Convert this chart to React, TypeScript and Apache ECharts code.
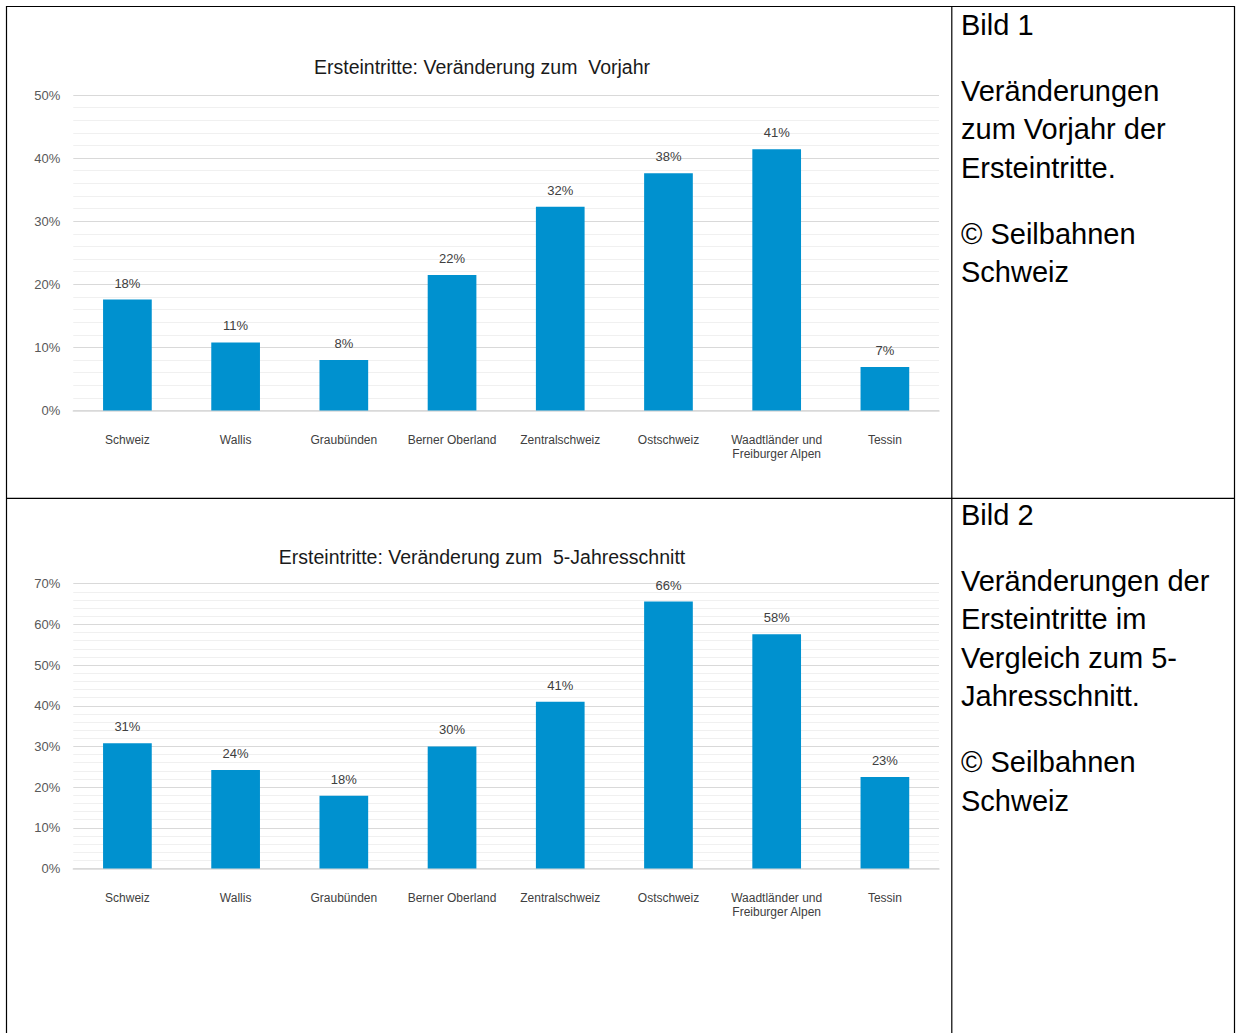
import React, { useEffect, useRef } from "react";
import * as echarts from "echarts";

const categories = [
  "Schweiz",
  "Wallis",
  "Graubünden",
  "Berner Oberland",
  "Zentralschweiz",
  "Ostschweiz",
  "Waadtländer und\nFreiburger Alpen",
  "Tessin",
];
const vorjahrValues = [17.6, 10.8, 8.0, 21.5, 32.3, 37.6, 41.4, 6.9];
const fuenfJahreValues = [30.8, 24.2, 17.9, 30.0, 41.0, 65.6, 57.6, 22.5];
const title1 = "Ersteintritte: Veränderung zum  Vorjahr";
const title2 = "Ersteintritte: Veränderung zum  5-Jahresschnitt";
const side1 = ["Bild 1", "Veränderungen", "zum Vorjahr der", "Ersteintritte.", "© Seilbahnen", "Schweiz"];
const side2 = ["Bild 2", "Veränderungen der", "Ersteintritte im", "Vergleich zum 5-", "Jahresschnitt.", "© Seilbahnen", "Schweiz"];

const FONT = "'Liberation Sans', Arial, sans-serif";
const BAR = "#0091CF";

export default function App() {
  const ref = useRef<HTMLDivElement>(null);
  useEffect(() => {
    if (!ref.current) return;
    const chart = echarts.init(ref.current, undefined, { renderer: "svg" });

    const yAxisCommon = (max: number) => ({
      type: "value",
      min: 0,
      max,
      interval: 10,
      axisLine: { show: false },
      axisTick: { show: false },
      axisLabel: {
        formatter: "{value}%",
        fontSize: 13,
        fontFamily: FONT,
        color: "#595959",
        margin: 13,
      },
      splitLine: { show: true, lineStyle: { color: "#d9d9d9", width: 1 } },
      minorTick: { show: false, splitNumber: 5 },
      minorSplitLine: { show: true, lineStyle: { color: "#f0f0f0", width: 1 } },
    });

    const xAxisCommon = (gridIndex: number) => ({
      type: "category",
      gridIndex,
      data: categories,
      axisLine: { show: true, lineStyle: { color: "#d9d9d9", width: 1.5 } },
      axisTick: { show: false },
      axisLabel: {
        interval: 0,
        fontSize: 12,
        lineHeight: 14,
        fontFamily: FONT,
        color: "#404040",
        margin: 22,
        verticalAlign: "top",
      },
      splitLine: { show: false },
    });

    const seriesCommon = (data: number[], idx: number) => ({
      type: "bar",
      xAxisIndex: idx,
      yAxisIndex: idx,
      data,
      barWidth: "45%",
      itemStyle: { color: BAR },
      label: {
        show: true,
        position: "top",
        distance: 10,
        fontSize: 13,
        lineHeight: 13,
        fontFamily: FONT,
        color: "#404040",
        formatter: (p: any) => `${Math.round(p.value)}%`,
      },
    });

    const sideTexts = (lines: string[], offsetY: number) => {
      const ys = lines.length === 6
        ? [24.5, 90.8, 129.2, 167.5, 233.8, 272.2]
        : [24.5, 90.8, 129.2, 167.5, 205.8, 272.1, 310.5];
      return lines.map((t, i) => ({
        type: "text",
        x: 961,
        y: ys[i] + offsetY,
        style: {
          text: t,
          fill: "#000",
          font: `29px ${FONT}`,
          align: "left",
          verticalAlign: "middle",
        },
      }));
    };

    const line = (x1: number, y1: number, x2: number, y2: number) => ({
      type: "line",
      shape: { x1, y1, x2, y2 },
      style: { stroke: "#000", lineWidth: 1.2 },
    });

    chart.setOption({
      animation: false,
      grid: [
        { left: 73.3, top: 95, width: 865.7, height: 315.6 },
        { left: 73.3, top: 583.7, width: 865.7, height: 284.8 },
      ],
      xAxis: [xAxisCommon(0), xAxisCommon(1)],
      yAxis: [
        { ...yAxisCommon(50), gridIndex: 0 },
        { ...yAxisCommon(70), gridIndex: 1 },
      ],
      series: [seriesCommon(vorjahrValues, 0), seriesCommon(fuenfJahreValues, 1)],
      graphic: [
        line(6, 6.5, 1235, 6.5),
        line(6.5, 6, 6.5, 1033),
        line(1234.5, 6, 1234.5, 1033),
        line(951.8, 6, 951.8, 1033),
        line(6, 498.3, 1235, 498.3),
        {
          type: "text",
          x: 482,
          y: 67,
          style: { text: title1, fill: "#1a1a1a", font: `19.5px ${FONT}`, align: "center", verticalAlign: "middle" },
        },
        {
          type: "text",
          x: 482,
          y: 557,
          style: { text: title2, fill: "#1a1a1a", font: `19.5px ${FONT}`, align: "center", verticalAlign: "middle" },
        },
        ...sideTexts(side1, 0),
        ...sideTexts(side2, 490),
      ],
    });
    return () => chart.dispose();
  }, []);

  return (
    <div
      ref={ref}
      style={{ position: "absolute", left: 0, top: 0, width: 1240, height: 1033, background: "#fff" }}
    />
  );
}
